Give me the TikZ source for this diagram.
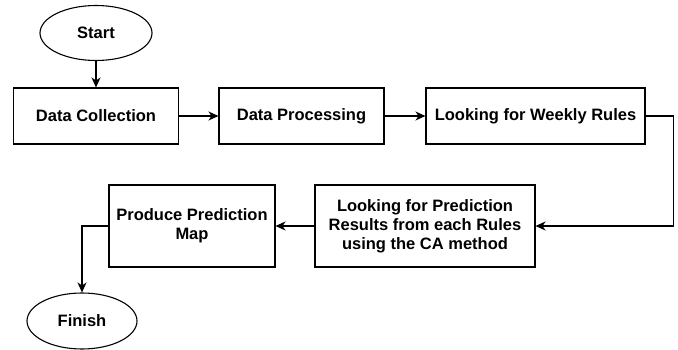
\documentclass[tikz,border=0pt]{standalone}
\usepackage{fontspec}
\setmainfont{Liberation Sans}
\usetikzlibrary{arrows.meta,shapes.geometric}

\tikzset{
  stepbox/.style={draw, line width=1.1pt, inner sep=0pt, align=center,
    font=\fontsize{16.5}{19}\selectfont\bfseries},
  terminal/.style={stepbox, ellipse},
  flow/.style={-{Stealth[length=10pt,width=9pt,inset=3pt]}, line width=1.1pt}
}

\begin{document}
\begin{tikzpicture}[x=1pt,y=-1pt]
    \useasboundingbox (0,0) rectangle (678,350);

    % Draw top row
    \node[terminal, minimum width=112pt, minimum height=55pt] (start) at (96,33) {Start};
    \node[stepbox, minimum width=165pt, minimum height=56pt] (collect) at (96,116) {Data Collection};
    \node[stepbox, minimum width=165pt, minimum height=56pt] (process) at (301.5,116) {Data Processing};
    \node[stepbox, minimum width=219pt, minimum height=56pt] (weekly) at (535.5,116) {Looking for Weekly Rules};

    % Draw bottom row
    \node[stepbox, minimum width=220pt, minimum height=82pt] (predict) at (425,226) {Looking for Prediction\\Results from each Rules\\using the CA method};
    \node[stepbox, minimum width=166pt, minimum height=82pt] (produce) at (192,226) {Produce Prediction\\Map};
    \node[terminal, minimum width=110pt, minimum height=56pt] (finish) at (82,321) {Finish};

    % Draw arrows
    \draw[flow] (start) -- (collect);
    \draw[flow] (collect) -- (process);
    \draw[flow] (process) -- (weekly);
    \draw[flow] (weekly.east) -- ++(28,0) |- (predict.east);
    \draw[flow] (predict) -- (produce);
    \draw[flow] (produce.west) -| (finish.north);
\end{tikzpicture}
\end{document}
